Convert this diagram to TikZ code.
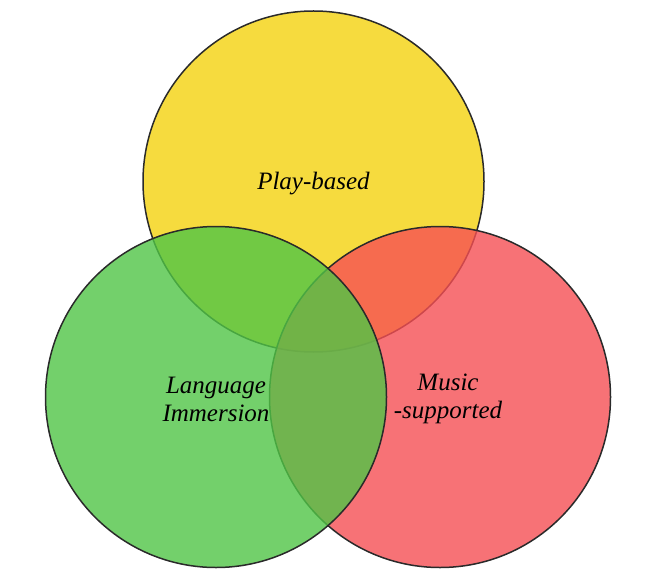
\documentclass[tikz,border=0pt]{standalone}
\usepackage{fontspec}
\setmainfont{Liberation Serif}
\definecolor{cyel}{HTML}{F4D30E}
\definecolor{cgrn}{HTML}{50C546}
\definecolor{cred}{HTML}{F64F54}
\definecolor{cline}{HTML}{2A2A2A}
\begin{document}
\begin{tikzpicture}[x=1pt,y=-1pt,
  setc/.style={draw=cline,line width=1.5pt,fill opacity=0.8},
  lab/.style={font=\fontsize{25}{28}\selectfont\itshape,align=center,text=black}]
\useasboundingbox (0,0) rectangle (652,577);
\fill[white] (0,0) rectangle (652,577);
\path[setc,fill=cyel] (313.5,181.5) circle[radius=170.5];
\path[setc,fill=cred] (440,397) circle[radius=170.5];
\path[setc,fill=cgrn] (216,397) circle[radius=170.5];
\node[lab] (play) at (313.5,183.5) {Play-based};
\node[lab] (lang) at (216,399) {Language\\Immersion};
\node[lab] (music) at (448,399) {Music\\-supported};
\end{tikzpicture}
\end{document}
